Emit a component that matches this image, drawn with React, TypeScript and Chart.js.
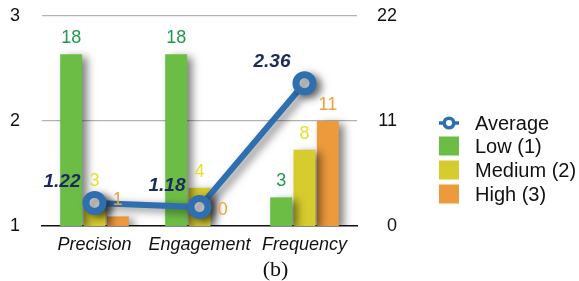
import React, { useEffect, useRef } from "react";
import { Chart, registerables } from "chart.js";

Chart.register(...registerables);

const CATEGORIES = ["Precision", "Engagement", "Frequency"];
const LOW = [18, 18, 3];
const MEDIUM = [3, 4, 8];
const HIGH = [1, 0, 11];
const AVERAGE = [1.22, 1.18, 2.36];
const LEFT_TICKS = [1, 2, 3];
const RIGHT_TICKS = [0, 11, 22];
const SERIES_NAMES = ["Average", "Low (1)", "Medium (2)", "High (3)"];

const FONT = '"Liberation Sans", Arial, Helvetica, sans-serif';
const LINE_COLOR = "#2f6fb0";
const GREEN = "#6cbd45";
const YELLOW = "#d6cc2e";
const ORANGE = "#ec9a3c";
const LABEL_COLORS = ["#1f9a4c", "#e6df2c", "#f0a03e"];
const AVG_LABEL = "#1c2b5e";

const shadowPlugin = {
  id: "shadow",
  beforeDatasetDraw(chart: any) {
    const ctx = chart.ctx;
    ctx.save();
    ctx.shadowColor = "rgba(0,0,0,0.5)";
    ctx.shadowBlur = 9;
    ctx.shadowOffsetX = 5;
    ctx.shadowOffsetY = 3;
  },
  afterDatasetDraw(chart: any) {
    chart.ctx.restore();
  },
};

const labelPlugin = {
  id: "valueLabels",
  afterDatasetsDraw(chart: any) {
    const ctx = chart.ctx;
    ctx.save();
    ctx.textBaseline = "middle";
    chart.data.datasets.forEach((ds: any, i: number) => {
      const meta = chart.getDatasetMeta(i);
      if (ds.type === "line") {
        ctx.font = `italic bold 19px ${FONT}`;
        ctx.fillStyle = AVG_LABEL;
        ctx.textAlign = "right";
        meta.data.forEach((pt: any, j: number) => {
          ctx.fillText(AVERAGE[j].toFixed(2), pt.x - 14, pt.y - 21);
        });
      } else {
        ctx.font = `18px ${FONT}`;
        ctx.fillStyle = LABEL_COLORS[i - 1];
        ctx.textAlign = "center";
        meta.data.forEach((bar: any, j: number) => {
          ctx.fillText(String(ds.data[j]), bar.x, bar.y - 16);
        });
      }
    });
    ctx.restore();
  },
};

const legendPlugin = {
  id: "customLegend",
  afterDraw(chart: any) {
    const ctx = chart.ctx;
    ctx.save();
    const x0 = 439;
    const tx = 475;
    const ys = [123, 146, 170, 194];
    ctx.font = `20px ${FONT}`;
    ctx.textBaseline = "middle";
    ctx.textAlign = "left";
    // Average marker
    ctx.strokeStyle = LINE_COLOR;
    ctx.lineWidth = 3.5;
    ctx.beginPath();
    ctx.moveTo(x0, ys[0]);
    ctx.lineTo(x0 + 20, ys[0]);
    ctx.stroke();
    ctx.beginPath();
    ctx.arc(x0 + 10, ys[0], 4.8, 0, Math.PI * 2);
    ctx.fillStyle = "#fff";
    ctx.fill();
    ctx.stroke();
    const cols = [GREEN, YELLOW, ORANGE];
    for (let k = 0; k < 3; k++) {
      ctx.fillStyle = cols[k];
      ctx.fillRect(x0, ys[k + 1] - 9.5, 20, 19);
    }
    ctx.fillStyle = "#111";
    SERIES_NAMES.forEach((n, k) => ctx.fillText(n, tx, ys[k] + 1));
    ctx.restore();
  },
};

export default function App() {
  const ref = useRef<HTMLCanvasElement | null>(null);
  useEffect(() => {
    if (!ref.current) return;
    const barCommon = {
      type: "bar",
      yAxisID: "yCount",
      categoryPercentage: 0.667,
      barPercentage: 0.94,
      order: 1,
    };
    const chart = new Chart(ref.current, {
      data: {
        labels: CATEGORIES,
        datasets: [
          {
            type: "line",
            label: SERIES_NAMES[0],
            data: AVERAGE,
            yAxisID: "yAvg",
            borderColor: LINE_COLOR,
            borderWidth: 6,
            pointRadius: 8.5,
            pointBorderWidth: 7,
            pointBackgroundColor: "#ffffff",
            pointBorderColor: LINE_COLOR,
            tension: 0,
            order: 0,
          } as any,
          { ...barCommon, label: SERIES_NAMES[1], data: LOW, backgroundColor: GREEN },
          { ...barCommon, label: SERIES_NAMES[2], data: MEDIUM, backgroundColor: YELLOW },
          { ...barCommon, label: SERIES_NAMES[3], data: HIGH, backgroundColor: ORANGE },
        ],
      },
      options: {
        responsive: false,
        animation: false,
        devicePixelRatio: 1,
        layout: { padding: { left: 10, right: 182, top: 16, bottom: 0 } },
        plugins: { legend: { display: false }, tooltip: { enabled: false } },
        scales: {
          x: {
            offset: true,
            grid: { display: false, drawTicks: false },
            border: { display: true, color: "#111", width: 1.5 },
            ticks: {
              padding: 8,
              autoSkip: false,
              maxRotation: 0,
              minRotation: 0,
              color: "#111",
              font: { family: FONT, size: 18, style: "italic" },
            },
            afterFit(scale: any) {
              scale.height = 55;
            },
          },
          yAvg: {
            position: "left",
            min: 1,
            max: 3,
            afterBuildTicks(scale: any) {
              scale.ticks = LEFT_TICKS.map((v) => ({ value: v }));
            },
            grid: {
              drawTicks: false,
              color: (c: any) =>
                c.tick && c.tick.value === 1 ? "rgba(0,0,0,0)" : "#b3b3b3",
              lineWidth: 1.2,
            },
            border: { display: false },
            ticks: {
              padding: 0,
              crossAlign: "far",
              color: "#111",
              font: { family: FONT, size: 18 },
            },
            afterFit(scale: any) {
              scale.width = 32;
            },
          },
          yCount: {
            position: "right",
            min: 0,
            max: 22,
            afterBuildTicks(scale: any) {
              scale.ticks = RIGHT_TICKS.map((v) => ({ value: v }));
            },
            grid: { display: false, drawTicks: false },
            border: { display: false },
            ticks: {
              padding: 0,
              crossAlign: "far",
              color: "#111",
              font: { family: FONT, size: 18 },
            },
            afterFit(scale: any) {
              scale.width = 40;
            },
          },
        },
      },
      plugins: [shadowPlugin, labelPlugin, legendPlugin],
    } as any);
    return () => chart.destroy();
  }, []);

  return (
    <div
      style={{
        position: "fixed",
        left: 0,
        top: 0,
        width: 579,
        height: 281,
        background: "#fff",
      }}
    >
      <canvas ref={ref} width={579} height={281} style={{ display: "block" }} />
      <div
        style={{
          position: "absolute",
          left: 0,
          width: 551,
          top: 256,
          textAlign: "center",
          fontFamily: '"Liberation Serif", "Times New Roman", serif',
          fontSize: 22,
          lineHeight: "26px",
          color: "#111",
        }}
      >
        (b)
      </div>
    </div>
  );
}
